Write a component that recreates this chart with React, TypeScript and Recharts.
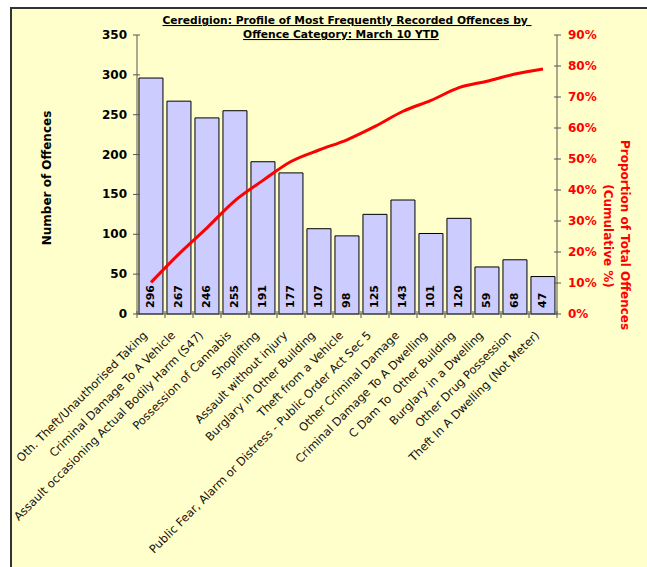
import React from "react";
import {
  ComposedChart,
  Bar,
  Line,
  XAxis,
  YAxis,
  LabelList,
} from "recharts";

// offence categories, in the order shown (largest groups first)
const categories = [
  "Oth. Theft/Unauthorised Taking",
  "Criminal Damage To A Vehicle",
  "Assault occasioning Actual Bodily Harm (S47)",
  "Possession of Cannabis",
  "Shoplifting",
  "Assault without injury",
  "Burglary in Other Building",
  "Theft from a Vehicle",
  "Public Fear, Alarm or Distress - Public Order Act Sec 5",
  "Other Criminal Damage",
  "Criminal Damage To A Dwelling",
  "C Dam To  Other Building",
  "Burglary in a Dwelling",
  "Other Drug Possession",
  "Theft In A Dwelling (Not Meter)",
];

const offences = [296, 267, 246, 255, 191, 177, 107, 98, 125, 143, 101, 120, 59, 68, 47];

// cumulative share of all offences (%)
const cumulativePct = [10.2, 19.4, 27.8, 36.6, 43.1, 49.2, 52.9, 56.2, 60.5, 65.4, 68.9, 73.0, 75.1, 77.4, 79.0];

const countTicks = [0, 50, 100, 150, 200, 250, 300, 350];
const pctTicks = [0, 10, 20, 30, 40, 50, 60, 70, 80, 90];

const FONT = "DejaVu Sans";
const AXIS = "#555";

const data = categories.map((name, i) => ({
  name,
  offences: offences[i],
  cum: cumulativePct[i],
}));

const CategoryTick = (props: any) => {
  const { x, y, payload, index, visibleTicksCount } = props;
  const half = payload?.offset ?? 14;
  const tx = x - 3;
  const ty = y + 22;
  return (
    <g>
      <line x1={x - half} x2={x - half} y1={y - 3} y2={y + 4} stroke={AXIS} />
      {index === visibleTicksCount - 1 && (
        <line x1={x + half} x2={x + half} y1={y - 3} y2={y + 4} stroke={AXIS} />
      )}
      <text
        x={tx}
        y={ty}
        transform={`rotate(-45, ${tx}, ${ty})`}
        textAnchor="end"
        fontSize={11.5}
        fontFamily={FONT}
        fill="#111"
        style={{ whiteSpace: "pre" }}
      >
        {payload.value}
      </text>
    </g>
  );
};

const LeftTick = (props: any) => {
  const { x, y, payload } = props;
  return (
    <g>
      <line x1={x + 6} x2={x + 13} y1={y} y2={y} stroke={AXIS} />
      <text
        x={x}
        y={y}
        textAnchor="end"
        dominantBaseline="central"
        fontSize={12}
        fontWeight="bold"
        fontFamily={FONT}
        fill="#000"
      >
        {payload.value}
      </text>
    </g>
  );
};

const RightTick = (props: any) => {
  const { x, y, payload } = props;
  return (
    <g>
      <line x1={x - 14} x2={x - 7} y1={y} y2={y} stroke={AXIS} />
      <text
        x={x}
        y={y}
        textAnchor="start"
        dominantBaseline="central"
        fontSize={12}
        fontWeight="bold"
        fontFamily={FONT}
        fill="#FF0000"
      >
        {`${payload.value}%`}
      </text>
    </g>
  );
};

const BarValue = (props: any) => {
  const { x, y, width, height, value } = props;
  const cx = Number(x) + Number(width) / 2;
  const by = Number(y) + Number(height) - 6;
  return (
    <text
      x={cx}
      y={by}
      transform={`rotate(-90, ${cx}, ${by})`}
      textAnchor="start"
      dominantBaseline="central"
      fontSize={11}
      fontWeight="bold"
      fontFamily={FONT}
      fill="#000"
    >
      {value}
    </text>
  );
};

export default function App() {
  return (
    <div
      style={{
        position: "absolute",
        left: 0,
        top: 0,
        width: 647,
        height: 567,
        overflow: "hidden",
        background: "#fff",
      }}
    >
      <div
        style={{
          position: "absolute",
          left: 10,
          top: 7,
          width: 700,
          height: 620,
          background: "#FFFFCC",
          borderLeft: "2px solid #333",
          borderTop: "2px solid #333",
        }}
      />
      <div style={{ position: "absolute", left: 0, top: 0 }}>
        <ComposedChart
          width={647}
          height={567}
          data={data}
          margin={{ top: 35, right: 0, bottom: 13, left: 0 }}
          barCategoryGap="7%"
        >
          <XAxis
            dataKey="name"
            interval={0}
            height={240}
            tickSize={0}
            tickMargin={0}
            tickLine={false}
            axisLine={{ stroke: AXIS }}
            tick={<CategoryTick />}
          />
          <YAxis
            yAxisId="left"
            width={137}
            domain={[0, 350]}
            ticks={countTicks}
            tickSize={0}
            tickMargin={10}
            tickLine={false}
            axisLine={{ stroke: AXIS }}
            tick={<LeftTick />}
          />
          <YAxis
            yAxisId="right"
            orientation="right"
            width={90}
            domain={[0, 90]}
            ticks={pctTicks}
            tickSize={0}
            tickMargin={11}
            tickLine={false}
            axisLine={{ stroke: AXIS }}
            tick={<RightTick />}
          />
          <Bar
            yAxisId="left"
            dataKey="offences"
            fill="#CCCCFF"
            stroke="#000"
            strokeWidth={1}
            isAnimationActive={false}
          >
            <LabelList dataKey="offences" content={<BarValue />} />
          </Bar>
          <Line
            yAxisId="right"
            dataKey="cum"
            type="monotone"
            stroke="#FF0000"
            strokeWidth={3}
            dot={false}
            isAnimationActive={false}
          />
        </ComposedChart>
      </div>
      <svg
        width={647}
        height={567}
        style={{ position: "absolute", left: 0, top: 0, pointerEvents: "none" }}
        fontFamily={FONT}
        fontWeight="bold"
      >
        <text
          x={347}
          y={24}
          textAnchor="middle"
          fontSize={10.7}
          style={{ textDecoration: "underline", whiteSpace: "pre" }}
        >
          {"Ceredigion: Profile of Most Frequently Recorded Offences by "}
        </text>
        <text
          x={341}
          y={38}
          textAnchor="middle"
          fontSize={10.7}
          style={{ textDecoration: "underline" }}
        >
          Offence Category: March 10 YTD
        </text>
        <text
          x={47}
          y={178}
          transform="rotate(-90, 47, 178)"
          textAnchor="middle"
          dominantBaseline="central"
          fontSize={12}
        >
          Number of Offences
        </text>
        <text
          x={625}
          y={235}
          transform="rotate(90, 625, 235)"
          textAnchor="middle"
          dominantBaseline="central"
          fontSize={12}
          fill="#FF0000"
        >
          Proportion of Total Offences
        </text>
        <text
          x={608}
          y={236}
          transform="rotate(90, 608, 236)"
          textAnchor="middle"
          dominantBaseline="central"
          fontSize={12}
          fill="#FF0000"
        >
          (Cumulative %)
        </text>
      </svg>
    </div>
  );
}
